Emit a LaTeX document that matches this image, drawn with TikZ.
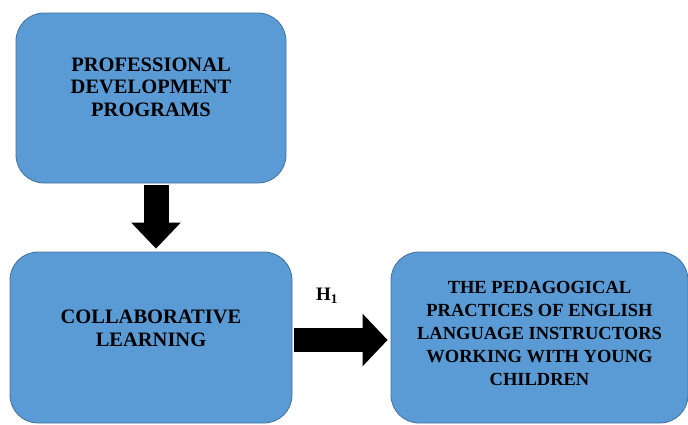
\documentclass[tikz,border=0pt]{standalone}
\usepackage{fontspec}
\setmainfont{Liberation Serif}
\usepackage{tikz}
\usetikzlibrary{positioning,arrows.meta}
\definecolor{boxblue}{RGB}{91,155,213}
\definecolor{boxline}{RGB}{65,113,156}

\begin{document}
\begin{tikzpicture}[box/.style={rectangle, rounded corners=28pt, draw=boxline, fill=boxblue, line width=0.8pt, align=center, font=\fontsize{20.5}{22.5}\selectfont\bfseries}, bigarrow/.style={line width=25pt, -{Triangle[length=26pt,width=48pt]}}]
    \useasboundingbox (0,0) rectangle (688pt,-424pt);
    \node [box, minimum width=270pt, minimum height=170pt, text depth=22pt] (prof) at (151pt,-98pt) {PROFESSIONAL\\DEVELOPMENT\\PROGRAMS};
    \node [box, below of=prof, node distance=239.5pt, minimum width=282pt, minimum height=171pt, text depth=19pt] (colab) {COLLABORATIVE\\LEARNING};
    \node [box, right of=colab, node distance=388.5pt, minimum width=297pt, minimum height=171pt, text depth=9pt, font=\fontsize{18.5}{23}\selectfont\bfseries] (pract) {THE PEDAGOGICAL\\PRACTICES OF ENGLISH\\LANGUAGE INSTRUCTORS\\WORKING WITH YOUNG\\CHILDREN};

    \draw [bigarrow] ([xshift=5pt,yshift=-2pt]prof.south) -- ([xshift=5pt,yshift=3pt]colab.north);
    \draw [bigarrow, line width=24pt, -{Triangle[length=25pt,width=51pt]}] ([xshift=2pt,yshift=-2.5pt]colab.east) -- node [pos=0.35, anchor=center, yshift=44pt, font=\fontsize{19}{22.5}\selectfont\bfseries] (h1) {H\textsubscript{1}} ([xshift=-3pt,yshift=-2.5pt]pract.west);
\end{tikzpicture}
\end{document}
